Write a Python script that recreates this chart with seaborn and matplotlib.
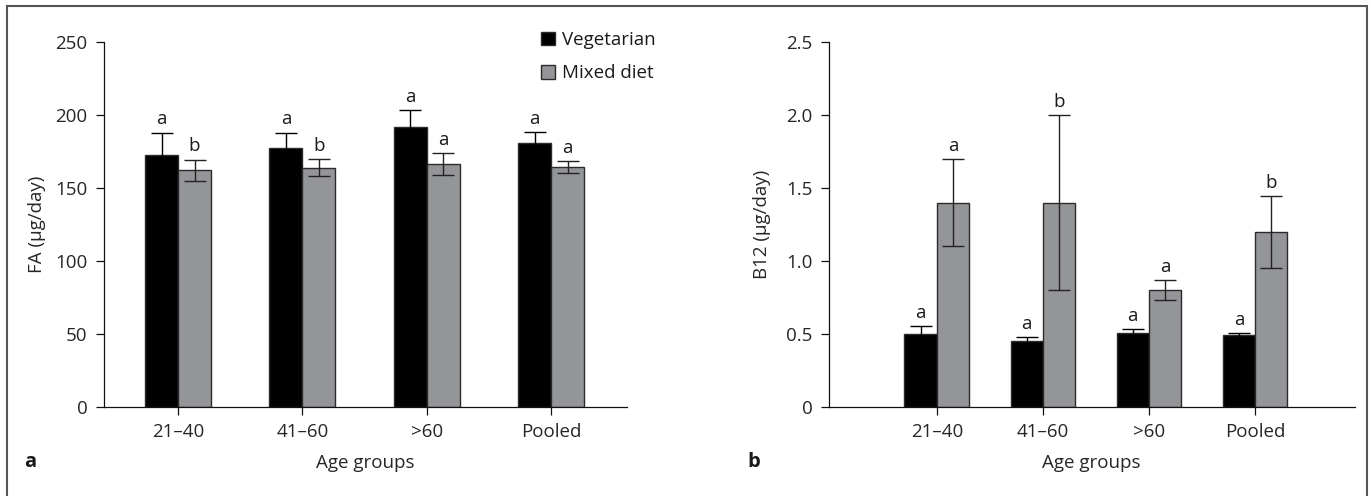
import pandas as pd
import matplotlib.pyplot as plt
import matplotlib.patches as mpatches
import seaborn as sns

# --- data ---
age_groups = ["21–40", "41–60", ">60", "Pooled"]
diets = ["Vegetarian", "Mixed diet"]

fa_veg = [172.5, 177.3, 191.8, 181.1]
fa_veg_err = [15.5, 10.7, 11.4, 7.1]
fa_mixed = [162.3, 164.0, 166.4, 164.3]
fa_mixed_err = [7.2, 5.8, 7.6, 4.2]
fa_veg_letters = ["a", "a", "a", "a"]
fa_mixed_letters = ["b", "b", "a", "a"]

b12_veg = [0.50, 0.45, 0.51, 0.49]
b12_veg_err = [0.055, 0.03, 0.025, 0.015]
b12_mixed = [1.40, 1.40, 0.80, 1.20]
b12_mixed_err = [0.30, 0.60, 0.07, 0.245]
b12_veg_letters = ["a", "a", "a", "a"]
b12_mixed_letters = ["a", "b", "a", "b"]

fa_ticks = [0, 50, 100, 150, 200, 250]
fa_ticklabels = ["0", "50", "100", "150", "200", "250"]
b12_ticks = [0, 0.5, 1.0, 1.5, 2.0, 2.5]
b12_ticklabels = ["0", "0.5", "1.0", "1.5", "2.0", "2.5"]

sns.set_theme(style="ticks")
plt.rcParams["font.family"] = ["Open Sans", "DejaVu Sans"]
plt.rcParams["font.size"] = 13.5
plt.rcParams["text.color"] = "#1a1a1a"

BLACK = "#000000"
GRAY = "#939598"
EDGE = "#2b2b2b"
FS = 13.5


def long_df(veg, mixed):
    rows = []
    for g, v in zip(age_groups, veg):
        rows.append({"Age": g, "Diet": diets[0], "Value": v})
    for g, v in zip(age_groups, mixed):
        rows.append({"Age": g, "Diet": diets[1], "Value": v})
    return pd.DataFrame(rows)


def draw_panel(ax, veg, veg_err, mixed, mixed_err, veg_lt, mixed_lt, width, xlim,
               ticks, ticklabels, ylabel):
    df = long_df(veg, mixed)
    sns.barplot(data=df, x="Age", y="Value", hue="Diet", order=age_groups,
                hue_order=diets, palette=[BLACK, GRAY], saturation=1,
                width=width, errorbar=None, edgecolor=EDGE, linewidth=1.0,
                legend=False, ax=ax)
    errs = [veg_err, mixed_err]
    letters = [veg_lt, mixed_lt]
    ecols = [BLACK, "#222222"]
    bar_conts = list(ax.containers)
    for k, cont in enumerate(bar_conts):
        for i, bar in enumerate(cont.patches):
            xc = bar.get_x() + bar.get_width() / 2
            h = bar.get_height()
            ax.errorbar(xc, h, yerr=errs[k][i], fmt="none", ecolor=ecols[k],
                        elinewidth=1.0, capsize=8, capthick=1.0, zorder=3)
            ax.annotate(letters[k][i], (xc, h + errs[k][i]), xytext=(0, 3),
                        textcoords="offset points", ha="center", va="bottom",
                        fontsize=FS)
    ax.set_xlim(*xlim)
    ax.set_ylim(0, ticks[-1])
    ax.set_yticks(ticks)
    ax.set_yticklabels(ticklabels)
    ax.set_xlabel("Age groups", fontsize=FS)
    ax.set_ylabel(ylabel, fontsize=FS)
    ax.xaxis.set_label_coords(0.5, -0.13)
    ax.yaxis.set_label_coords(-0.11, 0.5)
    sns.despine(ax=ax)
    for s in ["left", "bottom"]:
        ax.spines[s].set_linewidth(0.9)
        ax.spines[s].set_color("#111111")
    ax.tick_params(direction="out", length=5.5, width=0.9, color="#111111",
                   labelsize=FS, pad=6)


fig = plt.figure(figsize=(13.71, 4.96), dpi=100)
ax_a = fig.add_axes([0.0755, 0.1794, 0.3818, 0.7359])
ax_b = fig.add_axes([0.6044, 0.1794, 0.3837, 0.7359])

draw_panel(ax_a, fa_veg, fa_veg_err, fa_mixed, fa_mixed_err,
           fa_veg_letters, fa_mixed_letters, 0.53, (-0.6, 3.61),
           fa_ticks, fa_ticklabels, "FA (µg/day)")
draw_panel(ax_b, b12_veg, b12_veg_err, b12_mixed, b12_mixed_err,
           b12_veg_letters, b12_mixed_letters, 0.61, (-1.02, 3.94),
           b12_ticks, b12_ticklabels, "B12 (µg/day)")

handles = [mpatches.Patch(facecolor=BLACK, edgecolor=EDGE, linewidth=1.0),
           mpatches.Patch(facecolor=GRAY, edgecolor=EDGE, linewidth=1.0)]
fig.legend(handles, diets, loc="upper left",
           bbox_to_anchor=(541 / 1371, 1 - 31 / 496),
           bbox_transform=fig.transFigure, frameon=False, fontsize=FS,
           handlelength=0.75, handleheight=0.75, handletextpad=0.38,
           labelspacing=0.82, borderpad=0, borderaxespad=0)

fig.text(30 / 1371, 1 - 467 / 496, "a", fontweight="bold", fontsize=FS + 1,
         ha="center", va="baseline")
fig.text(754 / 1371, 1 - 467 / 496, "b", fontweight="bold", fontsize=FS + 1,
         ha="center", va="baseline")

# thin frame around the figure (bottom edge is cut off in the source)
frame = mpatches.Rectangle((7 / 1371, -0.05), 1360 / 1371, 1.05 - 6 / 496,
                           transform=fig.transFigure, fill=False,
                           edgecolor="#555555", linewidth=1.5, clip_on=False)
fig.patches.append(frame)

plt.savefig("out.png", dpi=100)
